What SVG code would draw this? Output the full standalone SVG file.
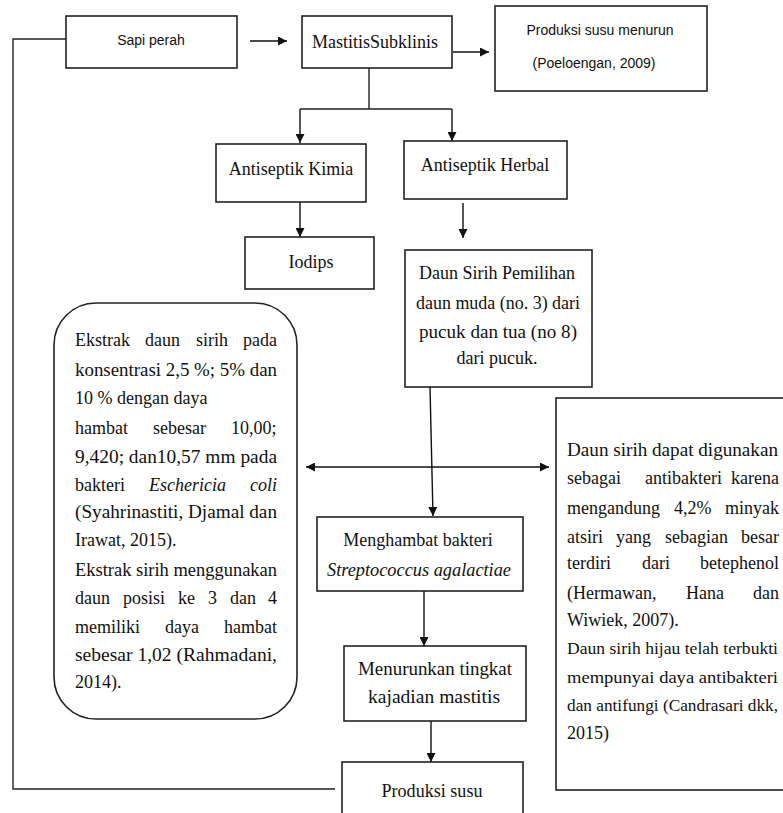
<svg xmlns="http://www.w3.org/2000/svg" width="783" height="813" viewBox="0 0 783 813">
<defs>
<marker id="ah" viewBox="0 0 10 10" refX="10" refY="5" markerWidth="9" markerHeight="9" markerUnits="userSpaceOnUse" orient="auto-start-reverse">
<path d="M0,0 L10,5 L0,10 z" fill="#111"/>
</marker>
<style>
.box{fill:#fff;stroke:#222;stroke-width:1.6}
.ln{fill:none;stroke:#222;stroke-width:1.4}
.ar{fill:none;stroke:#111;stroke-width:1.4;marker-end:url(#ah)}
.da{fill:none;stroke:#111;stroke-width:1.4;marker-end:url(#ah);marker-start:url(#ah)}
.sans{font-family:"Liberation Sans",Arial,sans-serif;font-size:14px;fill:#111}
.ser{font-family:"Liberation Serif","Times New Roman",serif;font-size:18px;fill:#111}
.sm{font-size:17px}
.c{text-anchor:middle}
.it{font-style:italic}
</style>
</defs>
<rect width="783" height="813" fill="#fff"/>

<g id="connectors">
<polyline class="ln" points="66,39 13,39 13,789 335,789"/>
<line class="ar" x1="250" y1="41" x2="287" y2="41"/>
<line class="ar" x1="453" y1="52" x2="489" y2="52"/>
<line class="ln" x1="369" y1="68" x2="369" y2="109"/>
<line class="ln" x1="300" y1="109" x2="452" y2="109"/>
<line class="ar" x1="300" y1="109" x2="300" y2="143"/>
<line class="ar" x1="452" y1="109" x2="452" y2="141"/>
<line class="ar" x1="300" y1="202" x2="300" y2="237"/>
<line class="ar" x1="463" y1="203" x2="463" y2="238"/>
<line class="ar" x1="430" y1="387" x2="433" y2="516"/>
<line class="da" x1="306" y1="467" x2="549" y2="467"/>
<line class="ar" x1="424" y1="591" x2="424" y2="646"/>
<line class="ar" x1="431" y1="721" x2="431" y2="762"/>
</g>

<g id="sapi-perah">
<rect class="box" x="66" y="16" width="171" height="52"/>
<text class="sans c" x="151" y="45">Sapi perah</text>
</g>

<g id="mastitis">
<rect class="box" x="302" y="16" width="150" height="52"/>
<text class="ser c" x="375" y="48">MastitisSubklinis</text>
</g>

<g id="produksi-menurun">
<rect class="box" x="495" y="6" width="212" height="85"/>
<text class="sans c" x="600" y="35">Produksi susu menurun</text>
<text class="sans c" x="594" y="68">(Poeloengan, 2009)</text>
</g>

<g id="antiseptik-kimia">
<rect class="box" x="216" y="144" width="150" height="58"/>
<text class="ser c" x="291" y="175">Antiseptik Kimia</text>
</g>

<g id="antiseptik-herbal">
<rect class="box" x="404" y="141" width="163" height="58"/>
<text class="ser c" x="485" y="171">Antiseptik Herbal</text>
</g>

<g id="iodips">
<rect class="box" x="245" y="237" width="129" height="52"/>
<text class="ser c" x="311" y="268">Iodips</text>
</g>

<g id="daun-sirih">
<rect class="box" x="405" y="250" width="187" height="137"/>
<text class="ser c" x="497" y="279" textLength="156" lengthAdjust="spacingAndGlyphs">Daun Sirih Pemilihan</text>
<text class="ser c" x="498" y="309" textLength="164" lengthAdjust="spacingAndGlyphs">daun muda (no. 3) dari</text>
<text class="ser c" x="498" y="338" textLength="158" lengthAdjust="spacingAndGlyphs">pucuk dan tua (no 8)</text>
<text class="ser c" x="497" y="364" textLength="81" lengthAdjust="spacingAndGlyphs">dari pucuk.</text>
</g>

<g id="ekstrak-box">
<rect class="box" x="54" y="303" width="243" height="416" rx="42" ry="42"/>
<text class="ser"><tspan x="75" y="346">Ekstrak</tspan><tspan x="145" y="346">daun</tspan><tspan x="196" y="346">sirih</tspan><tspan x="243" y="346">pada</tspan></text>
<text class="ser" x="75" y="376" textLength="202" lengthAdjust="spacingAndGlyphs">konsentrasi 2,5 %; 5% dan</text>
<text class="ser" x="75" y="404">10 % dengan daya</text>
<text class="ser"><tspan x="75" y="434">hambat</tspan><tspan x="153" y="434">sebesar</tspan><tspan x="231" y="434">10,00;</tspan></text>
<text class="ser" x="75" y="463" textLength="202" lengthAdjust="spacingAndGlyphs">9,420; dan10,57 mm pada</text>
<text class="ser"><tspan x="75" y="491">bakteri</tspan><tspan class="it" x="149" y="491">Eschericia</tspan><tspan class="it" x="250" y="491">coli</tspan></text>
<text class="ser" x="75" y="518" textLength="202" lengthAdjust="spacingAndGlyphs">(Syahrinastiti, Djamal dan</text>
<text class="ser" x="75" y="546">Irawat, 2015).</text>
<text class="ser" x="75" y="576" textLength="202" lengthAdjust="spacingAndGlyphs">Ekstrak sirih menggunakan</text>
<text class="ser"><tspan x="75" y="604">daun</tspan><tspan x="123" y="604">posisi</tspan><tspan x="178" y="604">ke</tspan><tspan x="208" y="604">3</tspan><tspan x="230" y="604">dan</tspan><tspan x="268" y="604">4</tspan></text>
<text class="ser"><tspan x="75" y="633">memiliki</tspan><tspan x="165" y="633">daya</tspan><tspan x="224" y="633">hambat</tspan></text>
<text class="ser" x="75" y="661" textLength="202" lengthAdjust="spacingAndGlyphs">sebesar 1,02 (Rahmadani,</text>
<text class="ser" x="75" y="688">2014).</text>
</g>

<g id="daun-sirih-antibakteri">
<rect class="box" x="556" y="398" width="240" height="392"/>
<text class="ser" x="567" y="456" textLength="211" lengthAdjust="spacingAndGlyphs">Daun sirih dapat digunakan</text>
<text class="ser"><tspan x="567" y="484">sebagai</tspan><tspan x="645" y="484">antibakteri</tspan><tspan x="731" y="484">karena</tspan></text>
<text class="ser"><tspan x="567" y="514">mengandung</tspan><tspan x="674" y="514">4,2%</tspan><tspan x="725" y="514">minyak</tspan></text>
<text class="ser"><tspan x="567" y="543">atsiri</tspan><tspan x="616" y="543">yang</tspan><tspan x="665" y="543">sebagian</tspan><tspan x="741" y="543">besar</tspan></text>
<text class="ser"><tspan x="567" y="569">terdiri</tspan><tspan x="642" y="569">dari</tspan><tspan x="700" y="569">betephenol</tspan></text>
<text class="ser"><tspan x="567" y="599">(Hermawan,</tspan><tspan x="686" y="599">Hana</tspan><tspan x="753" y="599">dan</tspan></text>
<text class="ser" x="567" y="626">Wiwiek, 2007).</text>
<text class="ser sm" x="567" y="654" textLength="211" lengthAdjust="spacingAndGlyphs">Daun sirih hijau telah terbukti</text>
<text class="ser sm" x="567" y="683" textLength="211" lengthAdjust="spacingAndGlyphs">mempunyai daya antibakteri</text>
<text class="ser sm" x="567" y="711" textLength="211" lengthAdjust="spacingAndGlyphs">dan antifungi (Candrasari dkk,</text>
<text class="ser" x="567" y="739">2015)</text>
</g>

<g id="menghambat">
<rect class="box" x="317" y="517" width="206" height="74"/>
<text class="ser c" x="418" y="546">Menghambat bakteri</text>
<text class="ser c it" x="419" y="576" textLength="184" lengthAdjust="spacingAndGlyphs">Streptococcus agalactiae</text>
</g>

<g id="menurunkan">
<rect class="box" x="344" y="646" width="182" height="75"/>
<text class="ser c" x="435" y="675" textLength="154" lengthAdjust="spacingAndGlyphs">Menurunkan tingkat</text>
<text class="ser c" x="434" y="703" textLength="132" lengthAdjust="spacingAndGlyphs">kajadian mastitis</text>
</g>

<g id="produksi-susu">
<rect class="box" x="342" y="762" width="181" height="60"/>
<text class="ser c" x="432" y="797" textLength="101" lengthAdjust="spacingAndGlyphs">Produksi susu</text>
</g>
</svg>
